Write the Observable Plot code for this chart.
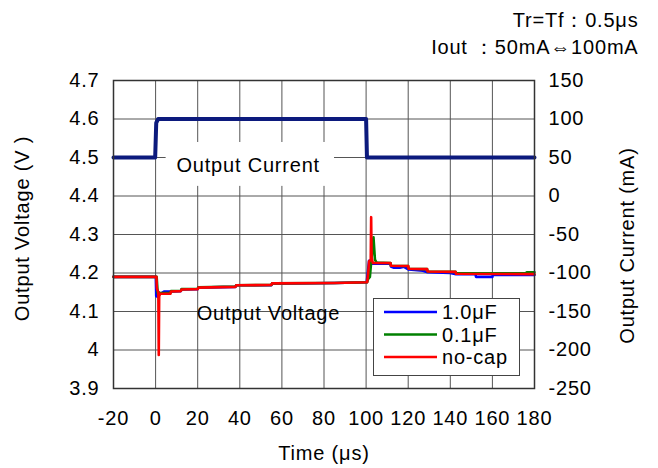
<!DOCTYPE html>
<html>
<head>
<meta charset="utf-8">
<script src="https://cdn.jsdelivr.net/npm/d3@7"></script>
<script src="https://cdn.jsdelivr.net/npm/@observablehq/plot@0.6"></script>
<style>
  html, body { margin: 0; padding: 0; background: #fff; }
  #chart { width: 658px; height: 468px; }
  #chart svg text { letter-spacing: 0.8px; }
</style>
</head>
<body>
<div id="chart"></div>
<script>
// ---- data ----
const xTicks = [-20, 0, 20, 40, 60, 80, 100, 120, 140, 160, 180];
const vTicks = [3.9, 4.0, 4.1, 4.2, 4.3, 4.4, 4.5, 4.6, 4.7];
const iTicks = [-250, -200, -150, -100, -50, 0, 50, 100, 150];

// Output current (mA)
const tCur = [-20, -0.2, 0.3, 1.2, 100.0, 100.4, 180];
const iCur = [50, 50, 95, 100, 100, 50, 50];

// 1.0uF
const tBlue = [-20, 0.1, 0.3, 1.0, 1.6, 3, 4, 7, 7.3, 12, 12.3, 20, 20.3, 38, 38.3, 55, 55.3, 85, 100.3, 100.8, 101.4, 101.9, 103, 111.6, 111.8, 113, 116, 118, 120.2, 127, 129.2, 140, 142.7, 152, 152.2, 160, 160.2, 180];
const vBlue = [4.19, 4.19, 4.14, 4.138, 4.145, 4.148, 4.152, 4.152, 4.152, 4.153, 4.157, 4.158, 4.162, 4.164, 4.168, 4.168, 4.172, 4.174, 4.176, 4.2, 4.232, 4.232, 4.224, 4.224, 4.217, 4.214, 4.214, 4.216, 4.209, 4.206, 4.202, 4.2, 4.197, 4.197, 4.19, 4.19, 4.195, 4.195];

// 0.1uF
const tGreen = [-20, 0.5, 1.0, 1.6, 2.2, 7, 7.3, 12, 12.3, 20, 20.3, 38, 38.3, 55, 55.3, 85, 100.5, 101.0, 101.8, 102.2, 102.8, 103.5, 104.2, 105, 111.6, 111.8, 120, 120.2, 129, 129.2, 142.5, 142.7, 176, 176.3, 180];
const vGreen = [4.19, 4.19, 4.147, 4.15, 4.148, 4.148, 4.153, 4.154, 4.158, 4.159, 4.163, 4.165, 4.168, 4.169, 4.173, 4.174, 4.176, 4.185, 4.19, 4.215, 4.25, 4.293, 4.235, 4.227, 4.226, 4.219, 4.218, 4.211, 4.21, 4.204, 4.203, 4.199, 4.199, 4.202, 4.202];

// no-cap
const tRed = [-20, 0.4, 0.6, 1.3, 1.5, 1.7, 2.2, 7, 7.3, 12, 12.3, 20, 20.3, 38, 38.3, 55, 55.3, 85, 100.5, 101.0, 101.4, 102.2, 102.4, 102.6, 103.2, 111.6, 111.8, 120, 120.2, 129, 129.2, 142.5, 142.7, 180];
const vRed = [4.19, 4.19, 4.16, 4.15, 3.987, 4.14, 4.146, 4.146, 4.152, 4.153, 4.157, 4.158, 4.162, 4.164, 4.168, 4.169, 4.173, 4.174, 4.176, 4.2, 4.23, 4.235, 4.345, 4.24, 4.226, 4.226, 4.219, 4.218, 4.211, 4.21, 4.204, 4.203, 4.198, 4.197];

const seriesNames = ["1.0μF", "0.1μF", "no-cap"];
const seriesColors = ["#0000ff", "#008000", "#ff0000"];
const currentColor = "#0c1a7d";

// annotations (in data units: time, mA / V)
const curLabel = {t: 44, mA: 40, text: "Output Current"};
const curLabelBox = {t1: 5, t2: 85, mA1: 12.5, mA2: 69.5};
const voltLabel = {t: 53.6, v: 4.095, text: "Output Voltage"};
const notes = ["Tr=Tf：0.5μs", "Iout ：50mA⇔100mA"];

// ---- helpers ----
const toV = (mA) => 3.9 + (mA + 250) * 0.002;
const fromV = (v) => (v - 3.9) / 0.002 - 250;
const zip = (ts, vs) => ts.map((t, i) => ({t, v: vs[i]}));

const current = tCur.map((t, i) => ({t, v: toV(iCur[i])}));
const volt = [
  ...zip(tBlue, vBlue).map(d => ({...d, s: seriesNames[0]})),
  ...zip(tGreen, vGreen).map(d => ({...d, s: seriesNames[1]})),
  ...zip(tRed, vRed).map(d => ({...d, s: seriesNames[2]}))
];

const font = "'Liberation Sans', Arial, sans-serif";
const FS = 20;

const chart = Plot.plot({
  width: 658,
  height: 468,
  marginLeft: 113,
  marginRight: 124,
  marginTop: 80,
  marginBottom: 80,
  style: {fontFamily: font, fontSize: FS + "px", color: "#000", background: "#fff"},
  x: {domain: [-20, 180]},
  y: {domain: [3.9, 4.7]},
  color: {domain: seriesNames, range: seriesColors},
  marks: [
    Plot.gridX(xTicks, {stroke: "#555", strokeOpacity: 1, strokeWidth: 1}),
    Plot.gridY(vTicks, {stroke: "#555", strokeOpacity: 1, strokeWidth: 1}),
    Plot.rect([curLabelBox], {x1: "t1", x2: "t2", y1: d => toV(d.mA1), y2: d => toV(d.mA2), fill: "#fff"}),
    Plot.text([curLabel], {x: "t", y: d => toV(d.mA), text: "text", fontSize: FS, fill: "#000"}),
    Plot.text([voltLabel], {x: "t", y: "v", text: "text", fontSize: FS, fill: "#000"}),
    Plot.line(current, {x: "t", y: "v", stroke: currentColor, strokeWidth: 4, strokeLinejoin: "round"}),
    Plot.line(volt, {x: "t", y: "v", z: "s", stroke: "s", strokeWidth: 2.6}),
    Plot.frame({stroke: "#333", strokeWidth: 1.5}),
    Plot.axisX(xTicks, {tickSize: 0, tickPadding: 22, label: null, fontSize: FS, tickFormat: d => String(d)}),
    Plot.axisY(vTicks, {anchor: "left", tickSize: 0, tickPadding: 14, label: null, fontSize: FS,
      tickFormat: d => String(+d.toFixed(1))}),
    Plot.axisY(iTicks.map(toV), {anchor: "right", tickSize: 0, tickPadding: 14, label: null, fontSize: FS,
      tickFormat: d => String(Math.round(fromV(d)))}),
    Plot.text(["Output Voltage (V )"], {frameAnchor: "left", dx: -91, dy: -6, rotate: -90, textAnchor: "middle", lineAnchor: "middle", fontSize: FS, fill: "#000"}),
    Plot.text(["Output Current (mA)"], {frameAnchor: "right", dx: 93, dy: 11, rotate: -90, textAnchor: "middle", lineAnchor: "middle", fontSize: FS, fill: "#000"}),
    Plot.text(["Time (μs)"], {frameAnchor: "bottom", dy: 65, lineAnchor: "middle", fontSize: FS, fill: "#000"}),
    Plot.text([notes[0]], {frameAnchor: "top-right", dx: 104, dy: -60, textAnchor: "end", lineAnchor: "middle", fontSize: FS, fill: "#000"}),
    Plot.text([notes[1]], {frameAnchor: "top-right", dx: 104, dy: -33, textAnchor: "end", lineAnchor: "middle", fontSize: FS, fill: "#000"})
  ]
});

// legend inside plot (bottom-right)
const svg = d3.select(chart);
const lg = svg.append("g").attr("font-family", font).attr("font-size", FS).attr("text-anchor", "start");
lg.append("rect").attr("x", 373.5).attr("y", 298.5).attr("width", 146).attr("height", 77)
  .attr("fill", "#fff").attr("stroke", "#444").attr("stroke-width", 1);
seriesNames.forEach((name, i) => {
  const y = 312 + i * 22.5;
  lg.append("line").attr("x1", 384).attr("x2", 437).attr("y1", y).attr("y2", y)
    .attr("stroke", seriesColors[i]).attr("stroke-width", 2.6);
  lg.append("text").attr("x", 442).attr("y", y).attr("dy", "0.35em").attr("fill", "#000").text(name);
});

document.getElementById("chart").appendChild(chart);
</script>
</body>
</html>
